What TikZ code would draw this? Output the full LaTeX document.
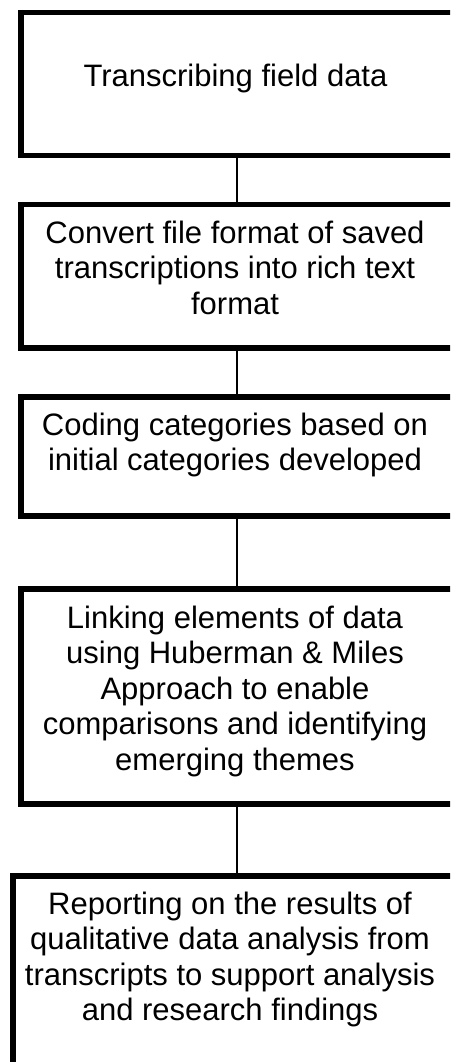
\documentclass[tikz,border=0pt]{standalone}
\usepackage{fontspec}
\setmainfont{Liberation Sans}
\begin{document}
\begin{tikzpicture}[x=1pt,y=-1pt,
  stepbox/.style={draw=black, line width=5.5pt, inner sep=0pt, fill=white},
  steptext/.style={anchor=north, inner sep=0pt, align=center,
                   font=\fontsize{31}{35.5}\selectfont},
  link/.style={draw=black, line width=2pt}]
\useasboundingbox (0,0) rectangle (450,1062);
\clip (0,0) rectangle (450,1062);

% frames of the five steps (their right sides run past the page edge)
\node[stepbox, minimum width=444pt, minimum height=143pt]   (b1) at (243,84)     {};
\node[stepbox, minimum width=444pt, minimum height=143.5pt] (b2) at (243,276.25) {};
\node[stepbox, minimum width=444pt, minimum height=119pt]   (b3) at (243,456.5)  {};
\node[stepbox, minimum width=444pt, minimum height=215pt]   (b4) at (243,696.5)  {};
\node[stepbox, minimum width=460pt, minimum height=214pt]   (b5) at (243,983)    {};

% vertical axis the connectors run along
\coordinate (axis) at (236.5,0);

% connectors between consecutive steps
\draw[link] (b1.south -| axis) -- (b2.north -| axis);
\draw[link] (b2.south -| axis) -- (b3.north -| axis);
\draw[link] (b3.south -| axis) -- (b4.north -| axis);
\draw[link] (b4.south -| axis) -- (b5.north -| axis);

% step descriptions
\node[steptext] (t1) at (235.5,63.5) {Transcribing field data};
\node[steptext] (t2) at (235,220.5) {Convert file format of saved\\transcriptions into rich text\\format};
\node[steptext] (t3) at (235,412.5) {Coding categories based on\\initial categories developed};
\node[steptext] (t4) at (235,605.5) {Linking elements of data\\using Huberman \& Miles\\Approach to enable\\comparisons and identifying\\emerging themes};
\node[steptext] (t5) at (230,891.5) {Reporting on the results of\\qualitative data analysis from\\transcripts to support analysis\\and research findings};
\end{tikzpicture}
\end{document}
